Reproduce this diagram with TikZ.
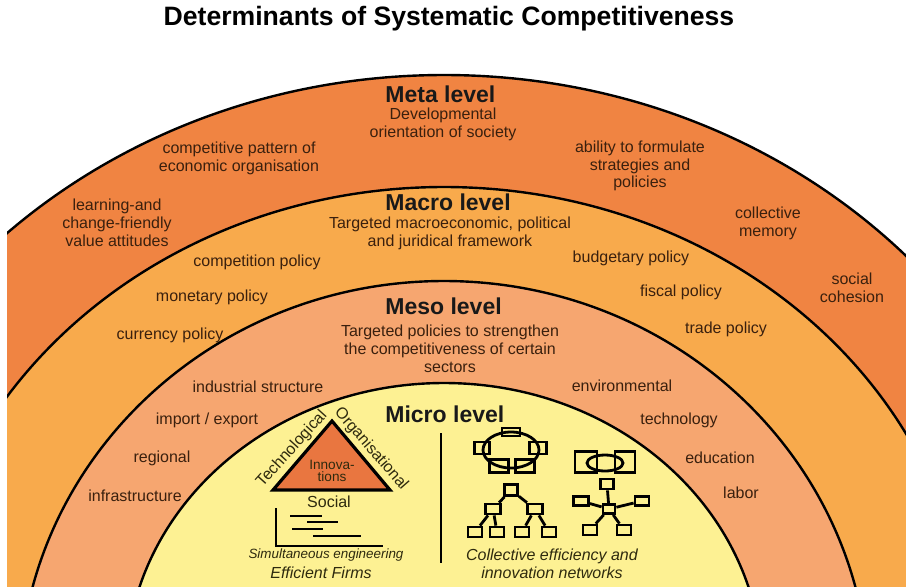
\documentclass[tikz,border=0pt]{standalone}
\usepackage{fontspec}
\setmainfont{Liberation Sans}
\definecolor{metaband}{HTML}{F08442}
\definecolor{macroband}{HTML}{F8AA4C}
\definecolor{mesoband}{HTML}{F6A670}
\definecolor{microband}{HTML}{FDF193}
\definecolor{innovfill}{HTML}{E97640}
\definecolor{labelbrown}{HTML}{3A200E}
\definecolor{microtext}{HTML}{2E2A0E}
\tikzset{
  band/.style={font=\fontsize{8}{8.9}\selectfont, text=labelbrown, align=center, inner sep=0pt},
  levelhead/.style={font=\fontsize{11.5}{12}\selectfont\bfseries, text=black!90, anchor=west, inner sep=0pt},
  rim/.style={draw=black, line width=1.2pt},
  netbox/.style={draw=black, line width=1.4pt, inner sep=0pt},
  netline/.style={draw=black, line width=1.4pt},
  microcap/.style={font=\fontsize{8}{9}\selectfont\itshape, text=microtext, align=center, inner sep=0pt}
}
\begin{document}
\begin{tikzpicture}[x=0.5pt, y=-0.5pt]
  \fill[white] (0,0) rectangle (906,586);
  \useasboundingbox (0,0) rectangle (906,586);
  % the four nested levels
  \begin{scope}
    \clip (7,0) rectangle (906,586);
    \foreach \col/\cy/\rx/\ry in {metaband/660/639/585, macroband/660/526/473, mesoband/690/425/409, microband/670/318/287}
      \filldraw[rim, fill=\col] (444,\cy) ellipse [x radius=\rx, y radius=\ry];
  \end{scope}

  \node[font=\fontsize{13.3}{14}\selectfont\bfseries, inner sep=0pt] (title) at (449,19) {Determinants of Systematic Competitiveness};

  \node[levelhead] (meta) at (385,94) {Meta level};
  \node[levelhead] (macro) at (385,202) {Macro level};
  \node[levelhead] (meso) at (385,306) {Meso level};
  \node[levelhead] (micro) at (385,414) {Micro level};

  \foreach \name/\x/\y/\txt in {metasub/443/124/{Developmental\\orientation of society},
      pattern/239/158/{competitive pattern of\\economic organisation},
      learning/117/223/{learning-and\\change-friendly\\value attitudes},
      ability/640/166/{ability to formulate\\strategies and\\policies},
      memory/768/223/{collective\\memory},
      cohesion/852/288/{social\\cohesion},
      macrosub/450/233/{Targeted macroeconomic, political\\and juridical framework},
      competition/257/262/{competition policy},
      monetary/212/297/{monetary policy},
      currency/170/335/{currency policy},
      budgetary/631/258/{budgetary policy},
      fiscal/681/292/{fiscal policy},
      trade/726/329/{trade policy},
      mesosub/450/349/{Targeted policies to strengthen\\the competitiveness of certain\\sectors},
      industrial/258/387/{industrial structure},
      import/207/420/{import / export},
      regional/162/458/{regional},
      infra/135/496/{infrastructure},
      environ/622/386/{environmental},
      technology/679/420/{technology},
      education/720/458/{education},
      labor/741/493/{labor}}
    \node[band] (\name) at (\x,\y) {\txt};

  % efficient firms
  \coordinate (apex) at (332,421);
  \coordinate (baseL) at (273,490);
  \coordinate (baseR) at (390,490);
  \filldraw[fill=innovfill, line width=1.6pt] (apex) -- (baseL) -- (baseR) -- cycle;
  \node[font=\fontsize{6.8}{6.3}\selectfont, text=microtext, align=center, inner sep=0pt] (innov) at (332,471) {Innova-\\tions};
  \node[font=\fontsize{8}{9}\selectfont, text=microtext, inner sep=0pt] (social) at (329,502) {Social};
  \node[font=\fontsize{8}{9}\selectfont, text=microtext, inner sep=0pt, rotate=48] (techno) at (292,449) {Technological};
  \node[font=\fontsize{8}{9}\selectfont, text=microtext, inner sep=0pt, rotate=-49] (organ) at (371,449) {Organisational};
  \draw[line width=1.2pt] (276,508) -- (276,546) -- (383,546);
  \foreach \xa/\xb/\y in {290/322/516, 307/338/522, 292/323/529, 313/361/536}
    \draw[line width=1.3pt] (\xa,\y) -- (\xb,\y);
  \node[microcap, font=\fontsize{6.7}{7}\selectfont\itshape] (simeng) at (326,555) {Simultaneous engineering};
  \node[microcap] (firms) at (321,573) {Efficient Firms};

  \draw[line width=1.4pt] (441,433) -- (441,563);

  % networks
  \draw[netline] (511,450) ellipse [x radius=28, y radius=18];
  \draw[netline] (605,463) ellipse [x radius=18, y radius=8];
  \foreach \name/\x/\y/\w/\h in {ringT/511/432/18/8, ringL/482/448/15/12, ringR/538/448/17/12,
      ringBL/499/466/19/13, ringBR/525/466/19/13, pairL/586/462/22/21, pairR/625/462/20/21,
      treeT/511/490/13/11, treeL/493/509/15/10, treeR/535/509/15/10,
      treeB1/475/532/14/10, treeB2/497/532/14/10, treeB3/522/532/14/10, treeB4/549/532/14/10,
      starC/609/509/12/9, starT/607/484/13/10, starL/581/501/15/9, starR/642/501/14/9,
      starB1/590/530/14/10, starB2/624/530/14/10}
    \node[netbox, minimum width=\w*0.5pt, minimum height=\h*0.5pt] (\name) at (\x,\y) {};
  \foreach \a/\b in {treeT/treeL, treeT/treeR, treeL/treeB1, treeL/treeB2, treeR/treeB3, treeR/treeB4,
      starC/starT, starC/starL, starC/starR, starC/starB1, starC/starB2}
    \draw[netline] (\a) -- (\b);
  \node[microcap] (networks) at (552,564) {Collective efficiency and\\innovation networks};
\end{tikzpicture}
\end{document}
